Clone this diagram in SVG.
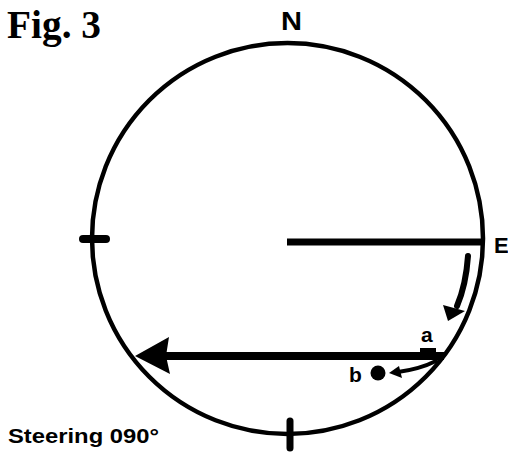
<svg xmlns="http://www.w3.org/2000/svg" width="508" height="452" viewBox="0 0 508 452">
<style>
.ln{fill:none;stroke:#000;stroke-linecap:round}
.sans{font-family:"Liberation Sans",Arial,sans-serif;font-weight:bold;fill:#000}
.serif{font-family:"Liberation Serif","Times New Roman",serif;font-weight:bold;fill:#000}
</style>
<rect width="508" height="452" fill="#fff"/>
<text class="serif" x="7" y="38" font-size="40" textLength="94" lengthAdjust="spacingAndGlyphs">Fig. 3</text>
<g id="compass">
<circle cx="287.5" cy="238.5" r="195.5" fill="none" stroke="#000" stroke-width="4.5"/>
<line class="ln" x1="83" y1="239" x2="106" y2="239" stroke-width="8"/>
<line class="ln" x1="290" y1="421" x2="290" y2="448" stroke-width="7"/>
</g>
<g id="labels">
<text class="sans" x="281" y="30" font-size="25" textLength="21" lengthAdjust="spacingAndGlyphs">N</text>
<text class="sans" x="494" y="253" font-size="22">E</text>
<text class="sans" x="421" y="342" font-size="21">a</text>
<text class="sans" x="349" y="382" font-size="21">b</text>
<text class="sans" x="8" y="443" font-size="21" textLength="151" lengthAdjust="spacingAndGlyphs">Steering 090°</text>
</g>
<g id="connectors">
<line x1="287" y1="242" x2="483" y2="242" stroke="#000" stroke-width="7"/>
<path class="ln" d="M468,256 Q466,285 457,306" stroke-width="6"/>
<polygon points="443,305 465,311 448,321" fill="#000"/>
<line x1="160" y1="356" x2="444" y2="356" stroke="#000" stroke-width="8"/>
<polygon points="135,356 169,337 166,356 170,374" fill="#000"/>
<rect x="420" y="348" width="16" height="10" fill="#000"/>
<path class="ln" d="M436,361 Q420,369 398,372" stroke-width="4"/>
<polygon points="389,373 399,366 402,378" fill="#000"/>
<circle cx="378" cy="373" r="7.5" fill="#000"/>
</g>
</svg>
